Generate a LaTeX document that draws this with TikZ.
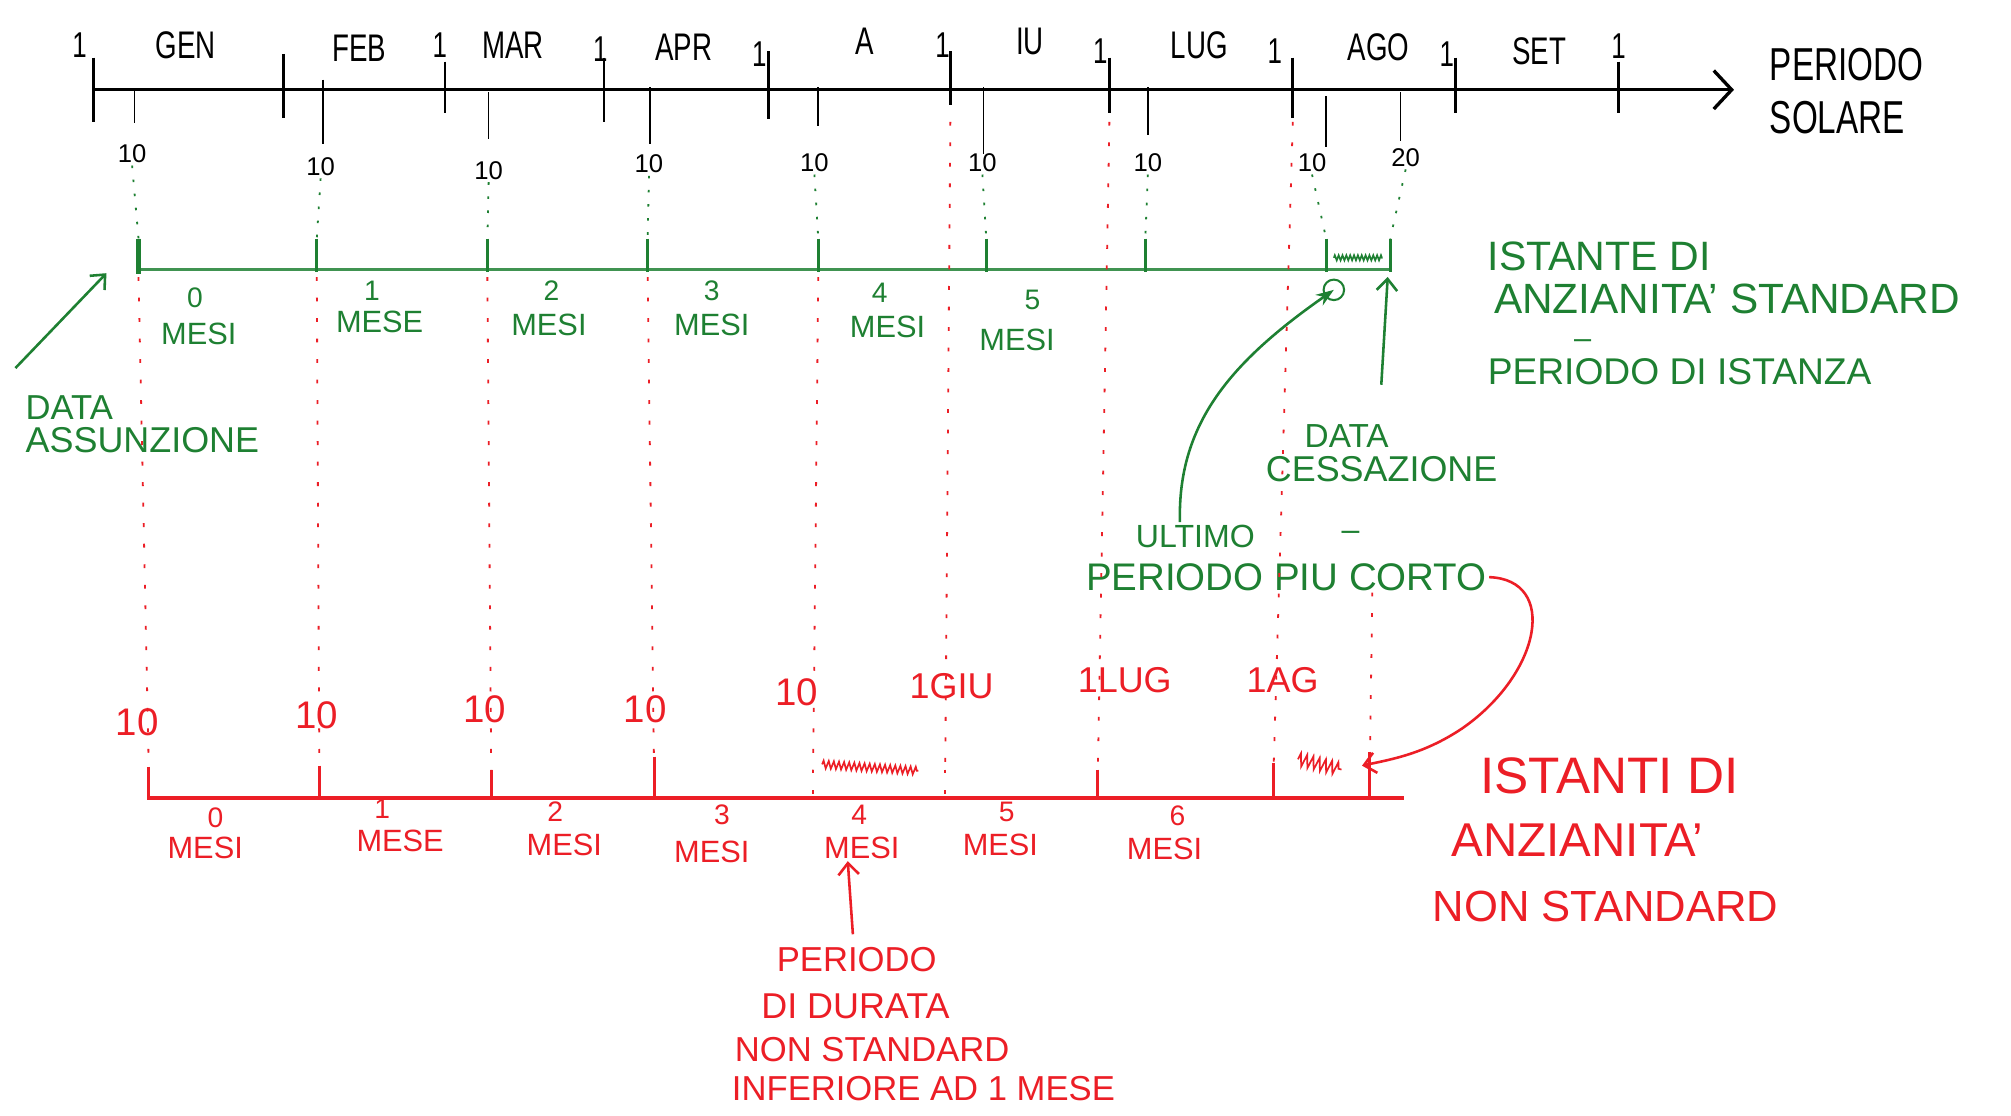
\documentclass[tikz,border=0pt]{standalone}
\usepackage{fontspec}
\setmainfont{Liberation Sans}
\newfontfamily\narrowfam[FakeStretch=0.72]{Liberation Sans}
\usetikzlibrary{arrows.meta,decorations.pathmorphing}
\definecolor{pgreen}{RGB}{30,128,50}
\definecolor{pred}{RGB}{236,30,38}
\newcommand{\fsz}[1]{\fontsize{#1}{#1}\selectfont}
\begin{document}
\begin{tikzpicture}[x=1pt,y=-1pt,
  txt/.style={inner sep=0pt, outer sep=2pt, anchor=center},
  month/.style={txt, font=\narrowfam\fsz{30}},
  one/.style={txt, font=\narrowfam\fsz{28}},
  day/.style={txt, font=\fsz{20}},
  gtxt/.style={txt, text=pgreen},
  rtxt/.style={txt, text=pred},
  axisline/.style={line width=2.6pt, black},
  mtick/.style={line width=2.2pt, black},
  dtick/.style={line width=1.2pt, black},
  gaxis/.style={line width=2.4pt, pgreen!85},
  gtick/.style={line width=2.4pt, pgreen},
  raxis/.style={line width=2.8pt, pred},
  rtick/.style={line width=2.4pt, pred},
  gdots/.style={pgreen, line width=1.4pt, dash pattern=on 2pt off 9pt},
  rdots/.style={pred, line width=1.4pt, dash pattern=on 3pt off 13pt},
  garrow/.style={pgreen, line width=2pt, -{Straight Barb[length=9pt,width=16pt]}},
  gcurve/.style={pgreen, line width=2pt, -{Stealth[length=14pt,width=10pt]}},
  rarrow/.style={pred, line width=2pt, -{Straight Barb[length=9pt,width=16pt]}},
  scribble/.style={line width=1.3pt, decorate, decoration={zigzag, segment length=4pt, amplitude=3pt}}
]
\path[use as bounding box, fill=white] (0,0) rectangle (1568,870);

% ---------- top black axis (periodo solare)
\coordinate (a0) at (73,70);
\coordinate (a1) at (1352,70);
\draw[axisline, -{Straight Barb[length=14pt,width=30pt]}] (a0) -- (a1);
\foreach \x/\t/\b in {73/45/95, 221/42/92, 347/48/88, 471/45/95, 599/40/93, 741/40/82, 865/45/88, 1008/45/92, 1135/45/88, 1262/48/88}
  \draw[mtick] (\x,\t) -- (\x,\b);
\foreach \x/\y [count=\i] in {62/35, 343/35, 468/38, 592/42, 735/35, 858/40, 994/40, 1128/42, 1262/36}
  \node[one] (one\i) at (\x,\y) {1};
\node[month] (gen) at (145,35) {GEN};
\node[month] (feb) at (280,38) {FEB};
\node[month] (mar) at (400,35) {MAR};
\node[month] (apr) at (533,37) {APR};
\node[month] (mag) at (674,32) {A};
\node[month] (giu) at (803,32) {IU};
\node[month] (lug) at (935,35) {LUG};
\node[month] (ago) at (1075,37) {AGO};
\node[month] (set) at (1200,40) {SET};
\node[txt, font=\narrowfam\fsz{36}, anchor=west] (ps1) at (1378,50) {PERIODO};
\node[txt, font=\narrowfam\fsz{36}, anchor=west] (ps2) at (1378,92) {SOLARE};

\foreach \x/\t/\b in {105/70/96, 252/62/112, 381/72/108, 507/68/112, 638/68/98, 767/68/120, 895/68/105, 1034/75/115, 1092/72/110}
  \draw[dtick] (\x,\t) -- (\x,\b);
\foreach \x/\y [count=\i] in {103/120, 250/130, 381/133, 506/128, 635/127, 766/127, 895/127, 1023/127}
  \node[day] (d\i) at (\x,\y) {10};
\node[day] (d9) at (1096,123) {20};

% ---------- green axis (standard)
\coordinate (g0) at (108,210);
\coordinate (g1) at (1085,210);
\draw[gaxis] (g0) -- (g1);
\foreach \x [count=\i] in {108,247,380,505,638,769,893,1034,1084} {
  \coordinate (gt\i) at (\x,186);
  \coordinate (gb\i) at (\x,216);
  \draw[gtick] (\x,186) -- (\x,212);
}
\draw[gtick, line width=3.4pt] (108,186) -- (108,214);
\foreach \i in {1,...,9}
  \draw[gdots] (d\i.south) -- (gt\i);
\draw[pgreen, scribble, decoration={segment length=3pt, amplitude=2pt}] (1040,201) -- (1078,201);

\foreach \n/\w/\xa/\ya/\xb/\yb [count=\i] in {0/MESI/152/232/155/260, 1/MESE/290/227/296/251, 2/MESI/430/227/428/253, 3/MESI/555/227/555/253, 4/MESI/686/228/692/255, 5/MESI/805/234/793/265} {
  \node[gtxt, font=\fsz{22}] (gn\i) at (\xa,\ya) {\n};
  \node[gtxt, font=\fsz{24}] (gm\i) at (\xb,\yb) {\w};
}

\node[gtxt, font=\fsz{32}, anchor=west] (ist1) at (1158,200) {ISTANTE DI};
\node[gtxt, font=\fsz{33}, anchor=west] (ist2) at (1163,233) {ANZIANITA' STANDARD};
\node[gtxt, font=\fsz{24}] (istd) at (1234,268) {–};
\node[gtxt, font=\fsz{29}, anchor=west] (ist3) at (1158,290) {PERIODO DI ISTANZA};

\node[gtxt, font=\fsz{27}, anchor=west] (da1) at (18,318) {DATA};
\node[gtxt, font=\fsz{28}, anchor=west] (da2) at (18,343) {ASSUNZIONE};
\coordinate (daS) at (12,287);
\draw[garrow] (daS) -- ([xshift=-25pt,yshift=-3pt]g0);

\node[gtxt, font=\fsz{26}] (dc1) at (1050,340) {DATA};
\node[gtxt, font=\fsz{28}, anchor=west] (dc2) at (985,366) {CESSAZIONE};
\coordinate (dcS) at (1077,300);
\draw[garrow] (dcS) -- ([xshift=-2pt]gb9);

\node[gtxt, font=\fsz{25}] (ult) at (932,418) {ULTIMO};
\node[gtxt, font=\fsz{25}] (ultd) at (1053,418) {–};
\node[gtxt, font=\fsz{30}] (ppc) at (1003,450) {PERIODO PIU CORTO};
\coordinate (lastp) at (1040,226);
\draw[gcurve] ([xshift=-12pt]ult.north) .. controls (918,330) and (960,282) .. (lastp);
\draw[pgreen, line width=1.6pt] (lastp) circle (8pt);

% ---------- red axis (non standard)
\coordinate (r0) at (115,622);
\coordinate (r1e) at (1095,622);
\foreach \x [count=\i] in {116,249,383,510,634,737,856,993,1068}
  \coordinate (rt\i) at (\x,600);
\coordinate (rs1) at (108,216);
\coordinate (rs2) at (247,216);
\coordinate (rs3) at (380,216);
\coordinate (rs4) at (505,216);
\coordinate (rs5) at (638,216);
\coordinate (rs6) at (741,95);
\coordinate (rs7) at (865,95);
\coordinate (rs8) at (1008,95);
\coordinate (rs9) at (1070,462);
\foreach \i in {1,...,9}
  \draw[rdots] (rs\i) -- (rt\i);
\draw[rdots] (rt5) -- (634,622);
\draw[rdots] (rt6) -- (737,622);
\draw[raxis] (r0) -- (r1e);
\foreach \x/\t in {116/598, 249/597, 383/600, 510/590, 856/600, 993/595, 1068/586}
  \draw[rtick] (\x,\t) -- (\x,622);
\draw[pred, scribble] (641,596) -- (716,601);
\draw[pred, scribble, decoration={segment length=5pt, amplitude=5pt}] (1012,592) -- (1046,600);

\node[rtxt, font=\fsz{30}] (rl1) at (107,563) {10};
\node[rtxt, font=\fsz{30}] (rl2) at (247,558) {10};
\node[rtxt, font=\fsz{30}] (rl3) at (378,553) {10};
\node[rtxt, font=\fsz{30}] (rl4) at (503,553) {10};
\node[rtxt, font=\fsz{30}] (rl5) at (621,540) {10};
\node[rtxt, font=\fsz{28}] (rl6) at (742,535) {1GIU};
\node[rtxt, font=\fsz{28}] (rl7) at (877,530) {1LUG};
\node[rtxt, font=\fsz{28}] (rl8) at (1000,530) {1AG};

\foreach \n/\w/\xa/\ya/\xb/\yb [count=\i] in {0/MESI/168/638/160/661, 1/MESE/298/631/312/656, 2/MESI/433/633/440/659, 3/MESI/563/635/555/664, 4/MESI/670/635/672/661, 5/MESI/785/633/780/659, 6/MESI/918/636/908/662} {
  \node[rtxt, font=\fsz{22}] (rn\i) at (\xa,\ya) {\n};
  \node[rtxt, font=\fsz{24}] (rm\i) at (\xb,\yb) {\w};
}

\node[rtxt, font=\fsz{40}, anchor=west] (ri1) at (1152,605) {ISTANTI DI};
\node[rtxt, font=\fsz{37}, anchor=west] (ri2) at (1130,655) {ANZIANITA'};
\node[rtxt, font=\fsz{34}, anchor=west] (ri3) at (1115,707) {NON STANDARD};

\node[rtxt, font=\fsz{27}] (b1) at (668,748) {PERIODO};
\node[rtxt, font=\fsz{28}] (b2) at (667,785) {DI DURATA};
\node[rtxt, font=\fsz{27}] (b3) at (680,818) {NON STANDARD};
\node[rtxt, font=\fsz{27}] (b4) at (720,849) {INFERIORE AD 1 MESE};
\draw[rarrow] ([xshift=-3pt,yshift=8pt]b1.north) -- ([xshift=-7pt]rm5.south -| b1.north);

\coordinate (rend) at (1062,597);
\draw[rarrow] (ppc.east) .. controls (1215,452) and (1202,525) .. (1140,568) .. controls (1110,588) and (1085,592) .. (rend);
\end{tikzpicture}
\end{document}
